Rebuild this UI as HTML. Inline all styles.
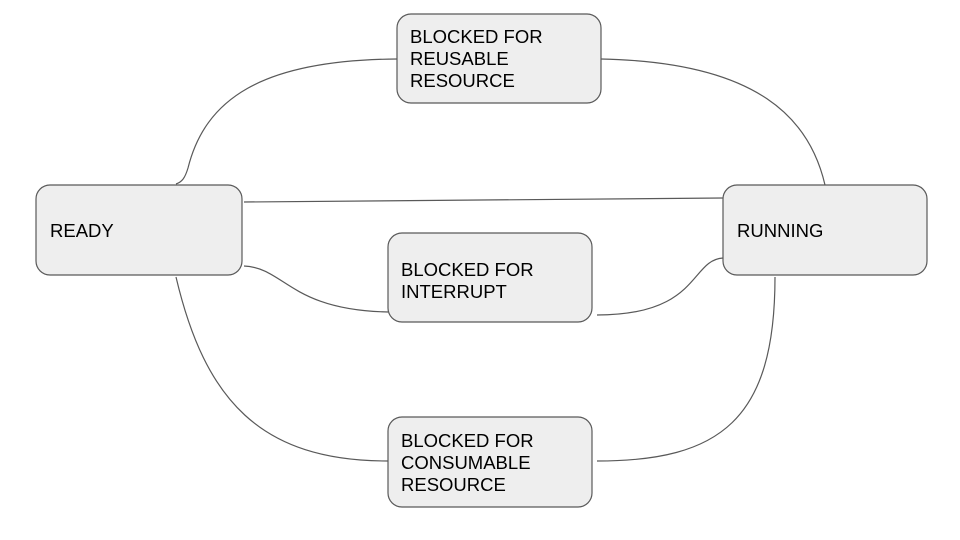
<!DOCTYPE html>
<html><head><style>
body{margin:0;background:#fff;}
svg{display:block;}
text{font-family:"Liberation Sans",Arial,sans-serif;font-size:18.5px;fill:#000;}
</style></head><body>
<svg width="960" height="540" viewBox="0 0 960 540" xmlns="http://www.w3.org/2000/svg">
<g fill="none" stroke="#595959" stroke-width="1.2">
<path d="M176,184 C182,182 185,178 188,168 C205,100 260,60 397,59"/>
<path d="M601,59 C760,62 810,120 825,185"/>
<path d="M244,202 L723,198"/>
<path d="M244,266 C285,268 290,310 388,312"/>
<path d="M597,315 C700,315 690,260 723,258"/>
<path d="M176,277 C205,400 260,461 388,461"/>
<path d="M775,277 C775,420 720,461 597,461"/>
</g>
<g fill="#eeeeee" stroke="#595959" stroke-width="1.2">
<rect x="397" y="14" width="204" height="89" rx="14"/>
<rect x="36" y="185" width="206" height="90" rx="14"/>
<rect x="723" y="185" width="204" height="90" rx="14"/>
<rect x="388" y="233" width="204" height="89" rx="14"/>
<rect x="388" y="417" width="204" height="90" rx="14"/>
</g>
<text x="410" y="43">BLOCKED FOR</text>
<text x="410" y="65">REUSABLE</text>
<text x="410" y="87">RESOURCE</text>
<text x="50" y="237">READY</text>
<text x="737" y="237">RUNNING</text>
<text x="401" y="276">BLOCKED FOR</text>
<text x="401" y="298">INTERRUPT</text>
<text x="401" y="447">BLOCKED FOR</text>
<text x="401" y="469">CONSUMABLE</text>
<text x="401" y="491">RESOURCE</text>
</svg>
</body></html>
